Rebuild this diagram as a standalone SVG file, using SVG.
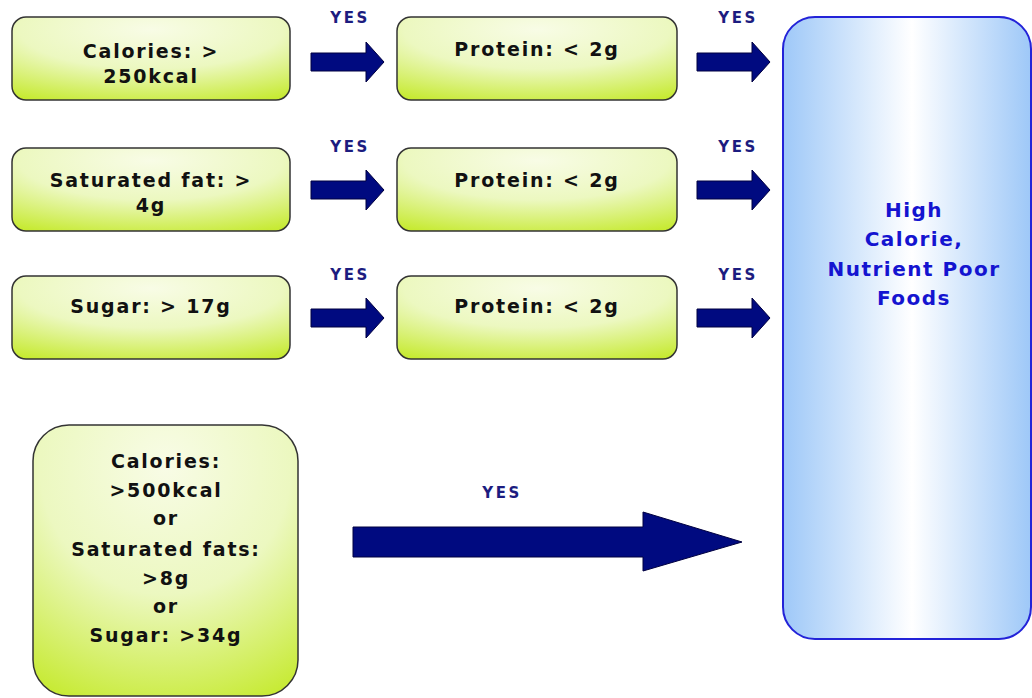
<svg xmlns="http://www.w3.org/2000/svg" width="1032" height="698" viewBox="0 0 1032 698">
  <defs>
    <radialGradient id="greenFill" cx="0.5" cy="0.15" r="0.95">
      <stop offset="0" stop-color="#f8fce6"/>
      <stop offset="0.5" stop-color="#ecf8c0"/>
      <stop offset="1" stop-color="#c6ea30"/>
    </radialGradient>
    <linearGradient id="blueFill" x1="0" y1="0" x2="1" y2="0">
      <stop offset="0" stop-color="#9ec8f8"/>
      <stop offset="0.52" stop-color="#ffffff"/>
      <stop offset="1" stop-color="#9ec8f8"/>
    </linearGradient>
    <path id="smallArrow" d="M0,-9 H55 V-20 L73,0 L55,20 V9 H0 Z"/>
  </defs>
  <style>
    .cond { fill: url(#greenFill); stroke: #333; stroke-width: 1.5; }
    .target { fill: url(#blueFill); stroke: #2323d8; stroke-width: 2; }
    .arrow { fill: #000a80; stroke: #000040; stroke-width: 1; }
    .label { font-family: "DejaVu Sans", Verdana, sans-serif; font-weight: bold; font-size: 19px; letter-spacing: 1.8px; fill: #111; text-anchor: middle; }
    .yes { font-family: "DejaVu Sans", Verdana, sans-serif; font-weight: bold; font-size: 15px; letter-spacing: 2.5px; fill: #1c1c80; text-anchor: middle; }
    .out { font-family: "DejaVu Sans", Verdana, sans-serif; font-weight: bold; font-size: 20px; letter-spacing: 1.5px; fill: #1414d0; text-anchor: middle; }
  </style>
  <rect width="1032" height="698" fill="#fff"/>

  <!-- first-stage conditions -->
  <g id="calories">
    <rect class="cond" x="12" y="17" width="278" height="83" rx="14"/>
    <text class="label" x="151" y="58">Calories: &gt;</text>
    <text class="label" x="151" y="83">250kcal</text>
  </g>
  <g id="satfat">
    <rect class="cond" x="12" y="148" width="278" height="83" rx="14"/>
    <text class="label" x="151" y="187">Saturated fat: &gt;</text>
    <text class="label" x="151" y="212">4g</text>
  </g>
  <g id="sugar">
    <rect class="cond" x="12" y="276" width="278" height="83" rx="14"/>
    <text class="label" x="151" y="313">Sugar: &gt; 17g</text>
  </g>

  <!-- protein checks -->
  <g id="protein1">
    <rect class="cond" x="397" y="17" width="280" height="83" rx="14"/>
    <text class="label" x="537" y="56">Protein: &lt; 2g</text>
  </g>
  <g id="protein2">
    <rect class="cond" x="397" y="148" width="280" height="83" rx="14"/>
    <text class="label" x="537" y="187">Protein: &lt; 2g</text>
  </g>
  <g id="protein3">
    <rect class="cond" x="397" y="276" width="280" height="83" rx="14"/>
    <text class="label" x="537" y="313">Protein: &lt; 2g</text>
  </g>

  <!-- combined threshold -->
  <g id="combined">
    <rect class="cond" x="33" y="425" width="265" height="271" rx="36"/>
    <text class="label" x="166" y="468">Calories:</text>
    <text class="label" x="166" y="497">&gt;500kcal</text>
    <text class="label" x="166" y="525">or</text>
    <text class="label" x="166" y="556">Saturated fats:</text>
    <text class="label" x="166" y="585">&gt;8g</text>
    <text class="label" x="166" y="613">or</text>
    <text class="label" x="166" y="642">Sugar: &gt;34g</text>
  </g>

  <!-- outcome -->
  <g id="outcome">
    <rect class="target" x="783" y="17" width="248" height="622" rx="32"/>
    <text class="out" x="914" y="217">High</text>
    <text class="out" x="914" y="246">Calorie,</text>
    <text class="out" x="914" y="276">Nutrient Poor</text>
    <text class="out" x="914" y="305">Foods</text>
  </g>

  <!-- connectors -->
  <g id="connectors">
    <use href="#smallArrow" class="arrow" x="311" y="62"/>
    <use href="#smallArrow" class="arrow" x="697" y="62"/>
    <use href="#smallArrow" class="arrow" x="311" y="190"/>
    <use href="#smallArrow" class="arrow" x="697" y="190"/>
    <use href="#smallArrow" class="arrow" x="311" y="318"/>
    <use href="#smallArrow" class="arrow" x="697" y="318"/>
    <path class="arrow" d="M353,527 H643 V512 L742,542 L643,571 V557 H353 Z"/>
    <text class="yes" x="350" y="23">YES</text>
    <text class="yes" x="738" y="23">YES</text>
    <text class="yes" x="350" y="152">YES</text>
    <text class="yes" x="738" y="152">YES</text>
    <text class="yes" x="350" y="280">YES</text>
    <text class="yes" x="738" y="280">YES</text>
    <text class="yes" x="502" y="498">YES</text>
  </g>
</svg>
